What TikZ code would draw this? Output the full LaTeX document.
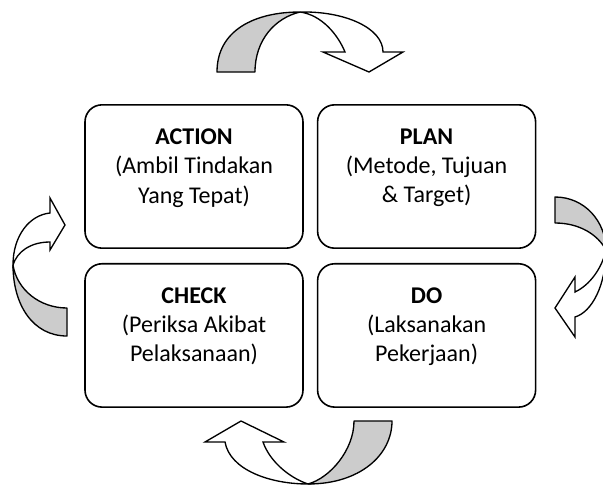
\documentclass[tikz,border=0pt]{standalone}
\usepackage{fontspec}
\setmainfont{Carlito}
\usetikzlibrary{positioning}
\definecolor{ribbongray}{RGB}{204,204,204}

\begin{document}
\begin{tikzpicture}[x=0.75pt, y=-0.75pt,
  stage/.style={draw, line width=1.2pt, rounded corners=12.75pt,
    minimum width=163.5pt, minimum height=107.5pt, align=center,
    font=\fontsize{18}{22}\selectfont, text depth=16pt},
  ribbonback/.style={draw, line width=1pt, fill=ribbongray, line join=round},
  ribbonfront/.style={draw, line width=1pt, fill=white, line join=miter}]
  \useasboundingbox (0,0) rectangle (603,486);
  \clip (0,0) rectangle (603,486);

  % Four stages of the cycle
  \node[stage] (action) at (194,176.5) {\textbf{ACTION}\\(Ambil Tindakan\\Yang Tepat)};
  \node[stage, right=9.75pt of action] (plan) {\textbf{PLAN}\\(Metode, Tujuan\\\& Target)};
  \node[stage, below=10.5pt of action] (check) {\textbf{CHECK}\\(Periksa Akibat\\Pelaksanaan)};
  \node[stage, below=10.5pt of plan] (do) {\textbf{DO}\\(Laksanakan\\Pekerjaan)};

  % Top curved arrow (Action -> Plan)
  \filldraw[ribbonback] (217,72) .. controls (217,30) and (255,12) .. (300,12)
    .. controls (275,18) and (255,40) .. (255,72) -- cycle;
  \filldraw[ribbonfront] (300,12) .. controls (345,11) and (383,28) .. (383,52)
    -- (403,52) -- (369,72) -- (323,52) -- (345,52)
    .. controls (338,35) and (322,15) .. (300,12) -- cycle;

  % Right curved arrow (Plan -> Do)
  \filldraw[ribbonback] (555,197) .. controls (585,197) and (606,222) .. (606,250)
    .. controls (598,235) and (580,223) .. (555,223) -- cycle;
  \filldraw[ribbonfront] (606,250) .. controls (606,285) and (592,312) .. (575,317)
    -- (575,337) -- (555,308) -- (575,277) -- (575,292)
    .. controls (590,285) and (602,268) .. (606,250) -- cycle;

  % Bottom curved arrow (Do -> Check)
  \filldraw[ribbonback] (392,421) .. controls (392,455) and (360,484) .. (308,484)
    .. controls (330,478) and (354,450) .. (354,421) -- cycle;
  \filldraw[ribbonfront] (308,484) .. controls (270,484) and (230,470) .. (225,442)
    -- (205,442) -- (241,421) -- (284,442) -- (263,442)
    .. controls (270,462) and (290,478) .. (308,484) -- cycle;

  % Left curved arrow (Check -> Action)
  \filldraw[ribbonback] (67,336) .. controls (33,336) and (13,305) .. (13,265)
    .. controls (17,290) and (40,308) .. (67,308) -- cycle;
  \filldraw[ribbonfront] (13,265) .. controls (13,235) and (30,215) .. (50,213)
    -- (50,198) -- (65,225) -- (50,250) -- (50,242)
    .. controls (30,242) and (17,252) .. (13,265) -- cycle;
\end{tikzpicture}
\end{document}
